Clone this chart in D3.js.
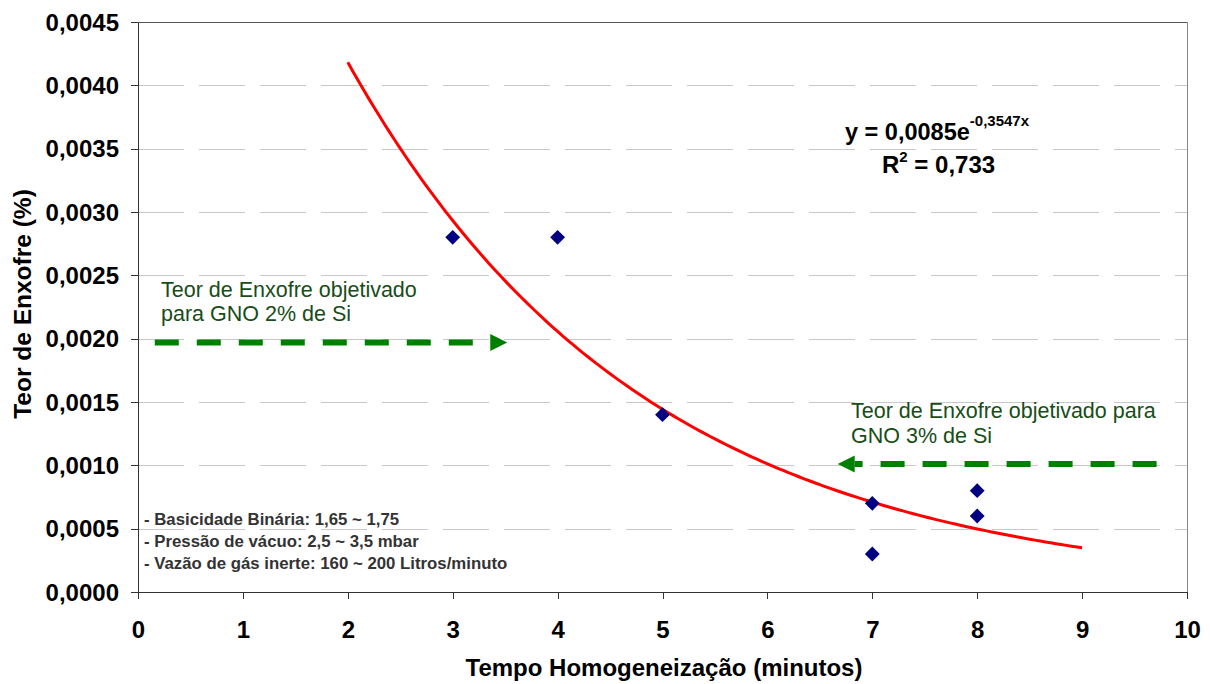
<!DOCTYPE html>
<html>
<head>
<meta charset="utf-8">
<script src="https://cdn.jsdelivr.net/npm/d3@7"></script>
<style>
body {
  margin: 0;
  background-color: white;
}
svg {
  display: block;
  font-family: "Liberation Sans", Arial, sans-serif;
}
.axis path,
.axis line {
  fill: none;
  stroke: #333;
  shape-rendering: crispEdges;
}
.axis text {
  font-size: 24px;
  font-weight: bold;
  fill: black;
}
.grid line {
  stroke: #c8c8c8;
  stroke-dasharray: 46,15;
  shape-rendering: crispEdges;
}
.grid path {
  stroke: none;
}
</style>
</head>
<body>
<script>

// measured points (tempo, teor de enxofre)
const tempo = [3, 4, 5, 7, 7, 8, 8];
const enxofre = [0.0028, 0.0028, 0.0014, 0.0007, 0.0003, 0.0008, 0.0006];

// exponential trendline printed on the chart
const trendA = 0.0085;
const trendB = -0.3547;
const trendFrom = 2;
const trendTo = 9;

const xTicks = [0, 1, 2, 3, 4, 5, 6, 7, 8, 9, 10];
const yTicks = [0, 0.0005, 0.001, 0.0015, 0.002, 0.0025, 0.003, 0.0035, 0.004, 0.0045];

// target levels (arrow y value, arrow start x, arrow tip x)
const alvo2 = [0.00197, 0.16, 3.52];
const alvo3 = [0.00101, 9.71, 6.67];

const notas = [
  "- Basicidade Binária: 1,65 ~ 1,75",
  "- Pressão de vácuo: 2,5 ~ 3,5 mbar",
  "- Vazão de gás inerte: 160 ~ 200 Litros/minuto"
];

const svg = d3.select("body")
            .append("svg")
            .attr("width", 1210)
            .attr("height", 684);

const margin = {top: 22, right: 23, bottom: 92, left: 138};
const width = +svg.attr("width") - margin.left - margin.right;
const height = +svg.attr("height") - margin.top - margin.bottom;
const g = svg.append("g").attr("transform", `translate(${margin.left}, ${margin.top})`);

const xScale = d3.scaleLinear().domain([0, 10]).range([0, width]);
const yScale = d3.scaleLinear().domain([0, 0.0045]).range([height, 0]);

const fmt = d => d3.format(".4f")(d).replace(".", ",");

// dashed gridlines
g.append("g")
   .attr("class", "grid")
   .call(d3.axisLeft(yScale).tickValues(yTicks.slice(1, -1)).tickSize(-width).tickFormat(""));

// top and right border
g.append("line")
   .attr("x1", 0).attr("x2", width).attr("y1", 0).attr("y2", 0)
   .attr("stroke", "#555").attr("shape-rendering", "crispEdges");
g.append("line")
   .attr("x1", width).attr("x2", width).attr("y1", 0).attr("y2", height)
   .attr("stroke", "#888").attr("shape-rendering", "crispEdges");

const xAxis = d3.axisBottom(xScale).tickValues(xTicks).tickSize(7).tickPadding(21).tickSizeOuter(0);
const yAxis = d3.axisLeft(yScale).tickValues(yTicks).tickSize(7).tickPadding(12).tickSizeOuter(0).tickFormat(fmt);

g.append("g")
   .attr("class", "axis")
   .attr("transform", `translate(0, ${height})`)
   .call(xAxis);

g.append("g")
   .attr("class", "axis")
   .call(yAxis);

g.selectAll(".axis .tick text").attr("dy", null).attr("dominant-baseline", null);
g.selectAll(".axis .tick text").filter(function() { return this.parentNode.parentNode.getAttribute("transform"); })
   .attr("y", 46);
g.selectAll(".axis .tick text").filter(function() { return !this.parentNode.parentNode.getAttribute("transform"); })
   .attr("y", 8);

// trendline
const trendX = d3.range(trendFrom, trendTo + 0.001, 0.05);
const line = d3.line()
               .x(d => xScale(d))
               .y(d => yScale(trendA * Math.exp(trendB * d)));

g.append("path").datum(trendX)
 .attr("fill", "none")
 .attr("stroke", "#ff0000")
 .attr("stroke-width", 3)
 .attr("d", line);

// data points
g.selectAll(".ponto")
 .data(d3.zip(tempo, enxofre))
 .enter().append("path")
 .attr("class", "ponto")
 .attr("d", d3.symbol().type(d3.symbolDiamond2).size(140))
 .attr("transform", d => `translate(${xScale(d[0])}, ${yScale(d[1])})`)
 .attr("fill", "#000080");

// target arrows
function seta(a) {
  const y = yScale(a[0]);
  const x0 = xScale(a[1]);
  const tip = xScale(a[2]);
  const dir = tip > x0 ? 1 : -1;
  const base = tip - dir * 17;
  g.append("line")
   .attr("x1", x0).attr("x2", base)
   .attr("y1", y).attr("y2", y)
   .attr("stroke", "#008000")
   .attr("stroke-width", 6)
   .attr("stroke-dasharray", "24,18");
  g.append("path")
   .attr("d", `M${tip},${y} L${base},${y - 8.5} L${base},${y + 8.5} Z`)
   .attr("fill", "#008000");
}
seta(alvo2);
seta(alvo3);

const green = "#174d17";
const t1 = svg.append("text")
   .attr("x", 161).attr("y", 297)
   .attr("fill", green).attr("font-size", 21.5);
t1.append("tspan").text("Teor de Enxofre objetivado");
t1.append("tspan").attr("x", 161).attr("dy", 24).text("para GNO 2% de Si");

const t2 = svg.append("text")
   .attr("x", 851).attr("y", 418)
   .attr("fill", green).attr("font-size", 21.5);
t2.append("tspan").text("Teor de Enxofre objetivado para");
t2.append("tspan").attr("x", 851).attr("dy", 25).text("GNO 3% de Si");

// equation
const eq = svg.append("text")
   .attr("x", 845).attr("y", 140)
   .attr("font-size", 23.5).attr("font-weight", "bold");
eq.append("tspan").text("y = 0,0085e");
eq.append("tspan").attr("font-size", 15).attr("dy", -14).text("-0,3547x");

const r2 = svg.append("text")
   .attr("x", 882).attr("y", 173)
   .attr("font-size", 24).attr("font-weight", "bold");
r2.append("tspan").text("R");
r2.append("tspan").attr("font-size", 15).attr("dy", -11).text("2");
r2.append("tspan").attr("dy", 11).text(" = 0,733");

// process notes
svg.append("g").selectAll("text")
   .data(notas)
   .enter().append("text")
   .attr("x", 144)
   .attr("y", (d, i) => 525 + i * 22)
   .attr("font-size", 16.8)
   .attr("font-weight", "bold")
   .attr("fill", "#333")
   .text(d => d);

// axis titles
svg.append("text")
   .attr("x", 664).attr("y", 676)
   .attr("text-anchor", "middle")
   .attr("font-size", 24).attr("font-weight", "bold")
   .text("Tempo Homogeneização (minutos)");

svg.append("text")
   .attr("transform", `translate(31, 304) rotate(-90)`)
   .attr("text-anchor", "middle")
   .attr("font-size", 24.5).attr("font-weight", "bold")
   .text("Teor de Enxofre (%)");

</script>
</body>
</html>
